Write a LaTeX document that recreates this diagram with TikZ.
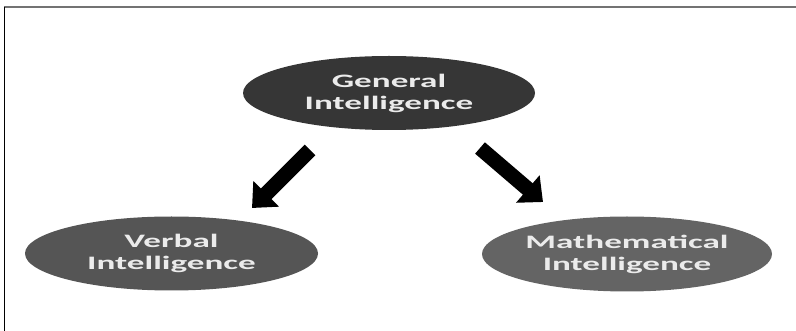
\documentclass[tikz, border = 0pt]{standalone}
\usepackage{fontspec}
\usetikzlibrary{positioning}
\usetikzlibrary{shapes.geometric}
\usetikzlibrary{arrows.meta}

\newfontfamily\labelfont[FakeStretch = 1.85]{Carlito}
\definecolor{gendark}{HTML}{363636}
\definecolor{verbgray}{HTML}{555555}
\definecolor{mathgray}{HTML}{646464}
\definecolor{labelwhite}{HTML}{EBEBEB}

\tikzset{
	blob/.style = {ellipse, inner sep = 0pt, minimum width = 292pt, minimum height = 74pt, text = labelwhite, align = center, font = \labelfont\bfseries\fontsize{19}{22}\selectfont},
	bigarrow/.style = {black, line width = 15pt, -{Triangle[width = 35pt, length = 20pt]}}
}

\begin{document}
\begin{tikzpicture}[x = 1pt, y = -1pt]
							\useasboundingbox (0, 0) rectangle (796, 331);
							\draw [black!55, line width = 2pt] (4, 7.5) -- (796, 7.5);
							\draw [black, line width = 1.2pt] (4.5, 7) -- (4.5, 331);
							\node [blob, fill = gendark] (gen) at (389, 93) {General\\Intelligence};
							\node [blob, fill = verbgray, minimum width = 293pt] (verb) at (171.5, 253.5) {Verbal\\Intelligence};
							\node [blob, fill = mathgray, minimum width = 290pt, minimum height = 75pt] (math) at (627, 254) {Mathematical\\Intelligence};
							\coordinate (lefttail) at (310, 150);
							\coordinate (lefttip) at (252, 208);
							\coordinate (righttail) at (480, 148);
							\coordinate (righttip) at (543, 202);
							\draw [bigarrow] (lefttail) -- (lefttip);
							\draw [bigarrow] (righttail) -- (righttip);
						\end{tikzpicture}
\end{document}
